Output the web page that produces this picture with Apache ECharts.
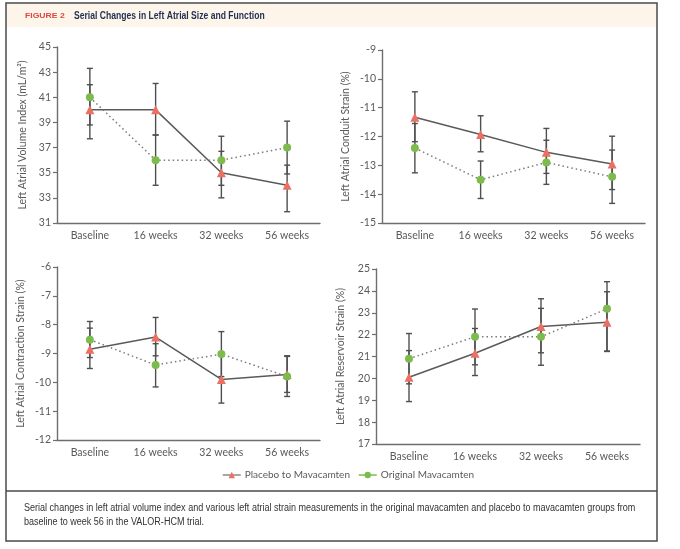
<!DOCTYPE html>
<html>
<head>
<meta charset="utf-8">
<script src="https://cdn.jsdelivr.net/npm/echarts@6/dist/echarts.min.js"></script>
<style>
html, body { margin: 0; padding: 0; background: #fff; }
#main { width: 680px; height: 549px; }
</style>
</head>
<body>
<div id="main"></div>
<script>
var categories = ['Baseline', '16 weeks', '32 weeks', '56 weeks'];

// left atrial volume index
var lavPlacebo = [40, 40, 35, 34];
var lavOriginal = [41, 36, 36, 37];
var lavPlaceboErr = [[37.7, 42], [38, 42.1], [33, 36.7], [31.9, 35.6]];
var lavOriginalErr = [[38.8, 43.3], [34, 38], [34, 37.9], [34.9, 39.1]];
var lavTicks = [31, 33, 35, 37, 39, 41, 43, 45];

// conduit strain
var conPlacebo = [-11.33, -11.93, -12.55, -12.95];
var conOriginal = [-12.4, -13.5, -12.9, -13.4];
var conPlaceboErr = [[-12.18, -10.45], [-12.53, -11.28], [-13.28, -11.72], [-13.84, -11.99]];
var conOriginalErr = [[-13.26, -11.55], [-14.15, -12.85], [-13.66, -12.13], [-14.32, -12.47]];
var conTicks = [-15, -14, -13, -12, -11, -10, -9];

// contraction strain
var ctrPlacebo = [-8.85, -8.43, -9.9, -9.73];
var ctrOriginal = [-8.52, -9.4, -9.02, -9.8];
var ctrPlaceboErr = [[-9.52, -8.12], [-9.08, -7.75], [-10.72, -9.1], [-10.35, -9.08]];
var ctrOriginalErr = [[-9.14, -7.89], [-10.16, -8.66], [-9.8, -8.24], [-10.49, -9.1]];
var ctrTicks = [-12, -11, -10, -9, -8, -7, -6];

// reservoir strain
var resPlacebo = [20.05, 21.15, 22.37, 22.57];
var resOriginal = [20.9, 21.9, 21.9, 23.18];
var resPlaceboErr = [[18.94, 21.27], [20.13, 22.28], [21.17, 23.64], [21.25, 23.96]];
var resOriginalErr = [[19.75, 22.05], [20.62, 23.17], [20.6, 23.2], [21.23, 24.42]];
var resTicks = [17, 18, 19, 20, 21, 22, 23, 24, 25];

var seriesNames = ['Placebo to Mavacamten', 'Original Mavacamten'];
var captionLines = [
    'Serial changes in left atrial volume index and various left atrial strain measurements in the original mavacamten and placebo to mavacamten groups from',
    'baseline to week 56 in the VALOR-HCM trial.'
];

var FONT = 'Lato, "Open Sans", sans-serif';
var AXIS_COLOR = '#6e6e6e';
var LABEL_COLOR = '#5a5a5a';
var RED = '#ec6f63';
var GREEN = '#7dbb4c';

var panels = [
    { name: 'Left Atrial Volume Index (mL/m²)', ticks: lavTicks, placebo: lavPlacebo, original: lavOriginal, pErr: lavPlaceboErr, oErr: lavOriginalErr,
      grid: { left: 57, top: 47, width: 263, height: 176 }, nameGap: 29 },
    { name: 'Left Atrial Conduit Strain (%)', ticks: conTicks, placebo: conPlacebo, original: conOriginal, pErr: conPlaceboErr, oErr: conOriginalErr,
      grid: { left: 382, top: 50, width: 263, height: 173 }, nameGap: 31 },
    { name: 'Left Atrial Contraction Strain (%)', ticks: ctrTicks, placebo: ctrPlacebo, original: ctrOriginal, pErr: ctrPlaceboErr, oErr: ctrOriginalErr,
      grid: { left: 57, top: 267, width: 263, height: 173 }, nameGap: 31 },
    { name: 'Left Atrial Reservoir Strain (%)', ticks: resTicks, placebo: resPlacebo, original: resOriginal, pErr: resPlaceboErr, oErr: resOriginalErr,
      grid: { left: 376, top: 269, width: 264, height: 175 }, nameGap: 30 }
];

function errorBars(params, api) {
    var x = api.value(0);
    var lo = api.coord([x, api.value(1)]);
    var hi = api.coord([x, api.value(2)]);
    var w = 3;
    var style = { stroke: '#4f4f4f', lineWidth: 1.4 };
    return {
        type: 'group',
        children: [
            { type: 'line', shape: { x1: lo[0], y1: lo[1], x2: hi[0], y2: hi[1] }, style: style },
            { type: 'line', shape: { x1: lo[0] - w, y1: lo[1], x2: lo[0] + w, y2: lo[1] }, style: style },
            { type: 'line', shape: { x1: hi[0] - w, y1: hi[1], x2: hi[0] + w, y2: hi[1] }, style: style }
        ]
    };
}

var grids = [], xAxes = [], yAxes = [], series = [];
for (var i = 0; i < panels.length; i++) {
    var p = panels[i];
    grids.push(p.grid);
    xAxes.push({
        type: 'category',
        gridIndex: i,
        data: categories,
        boundaryGap: true,
        axisLine: { lineStyle: { color: AXIS_COLOR, width: 1.4 } },
        axisTick: { alignWithLabel: true, length: 4, lineStyle: { color: AXIS_COLOR, width: 1.2 } },
        axisLabel: { color: LABEL_COLOR, fontFamily: FONT, fontSize: 10.5, margin: 7 },
        splitLine: { show: false }
    });
    yAxes.push({
        type: 'value',
        gridIndex: i,
        min: p.ticks[0],
        max: p.ticks[p.ticks.length - 1],
        name: p.name,
        nameLocation: 'middle',
        nameGap: p.nameGap,
        nameTextStyle: { color: LABEL_COLOR, fontFamily: FONT, fontSize: 10.5 },
        axisLine: { show: true, lineStyle: { color: AXIS_COLOR, width: 1.4 } },
        axisTick: { show: true, length: 4, customValues: p.ticks, lineStyle: { color: AXIS_COLOR, width: 1.2 } },
        axisLabel: { color: LABEL_COLOR, fontFamily: FONT, fontSize: 10.5, margin: 6, customValues: p.ticks },
        splitLine: { show: false }
    });
    series.push({
        type: 'custom',
        xAxisIndex: i, yAxisIndex: i,
        renderItem: errorBars,
        encode: { x: 0, y: [1, 2] },
        data: p.pErr.map(function (e, k) { return [k, e[0], e[1]]; }),
        z: 1,
        silent: true
    });
    series.push({
        type: 'custom',
        xAxisIndex: i, yAxisIndex: i,
        renderItem: errorBars,
        encode: { x: 0, y: [1, 2] },
        data: p.oErr.map(function (e, k) { return [k, e[0], e[1]]; }),
        z: 1,
        silent: true
    });
    series.push({
        name: seriesNames[0],
        type: 'line',
        xAxisIndex: i, yAxisIndex: i,
        data: p.placebo,
        symbol: 'triangle',
        symbolSize: 9,
        itemStyle: { color: RED },
        lineStyle: { color: '#5a5a5a', width: 1.5, type: 'solid' },
        z: 3
    });
    series.push({
        name: seriesNames[1],
        type: 'line',
        xAxisIndex: i, yAxisIndex: i,
        data: p.original,
        symbol: 'circle',
        symbolSize: 8,
        itemStyle: { color: GREEN },
        lineStyle: { color: '#7a7a7a', width: 1.5, type: [1.5, 3] },
        z: 3
    });
}

var option = {
    backgroundColor: '#fff',
    animation: false,
    grid: grids,
    xAxis: xAxes,
    yAxis: yAxes,
    series: series,
    legend: {
        data: [
            { name: seriesNames[0], lineStyle: { color: '#8a8a8a', type: 'solid', width: 1.5 } },
            { name: seriesNames[1], lineStyle: { color: GREEN, type: 'solid', width: 1.5 } }
        ],
        left: 217,
        top: 465,
        itemWidth: 18,
        itemHeight: 8,
        itemGap: 8,
        textStyle: { color: LABEL_COLOR, fontFamily: FONT, fontSize: 10, padding: [0, 0, 0, -1] }
    },
    graphic: [
        { type: 'rect', shape: { x: 7, y: 4, width: 649, height: 23 }, style: { fill: '#fdf5ea' }, z: -10 },
        { type: 'rect', shape: { x: 6, y: 3, width: 651, height: 538 }, style: { fill: 'none', stroke: '#4a4a4a', lineWidth: 1.5 }, z: -5 },
        { type: 'line', shape: { x1: 6, y1: 491, x2: 657, y2: 491 }, style: { stroke: '#4a4a4a', lineWidth: 1.5 }, z: -5 },
        { type: 'text', x: 25, y: 16, scaleX: 1.15, style: { text: 'FIGURE 2', fill: '#d9473f', font: 'bold 7.5px "Liberation Sans"', textVerticalAlign: 'middle' } },
        { type: 'text', x: 74, y: 16, scaleX: 0.86, style: { text: 'Serial Changes in Left Atrial Size and Function', fill: '#1f2e52', font: 'bold 10px "Liberation Sans"', textVerticalAlign: 'middle' } },
        { type: 'text', x: 24, y: 508, scaleX: 0.903, style: { text: captionLines[0], fill: '#333', font: '10px "Liberation Sans"', textVerticalAlign: 'middle' } },
        { type: 'text', x: 24, y: 522, scaleX: 0.903, style: { text: captionLines[1], fill: '#333', font: '10px "Liberation Sans"', textVerticalAlign: 'middle' } }
    ]
};

var chart = echarts.init(document.getElementById('main'));
chart.setOption(option);
</script>
</body>
</html>
